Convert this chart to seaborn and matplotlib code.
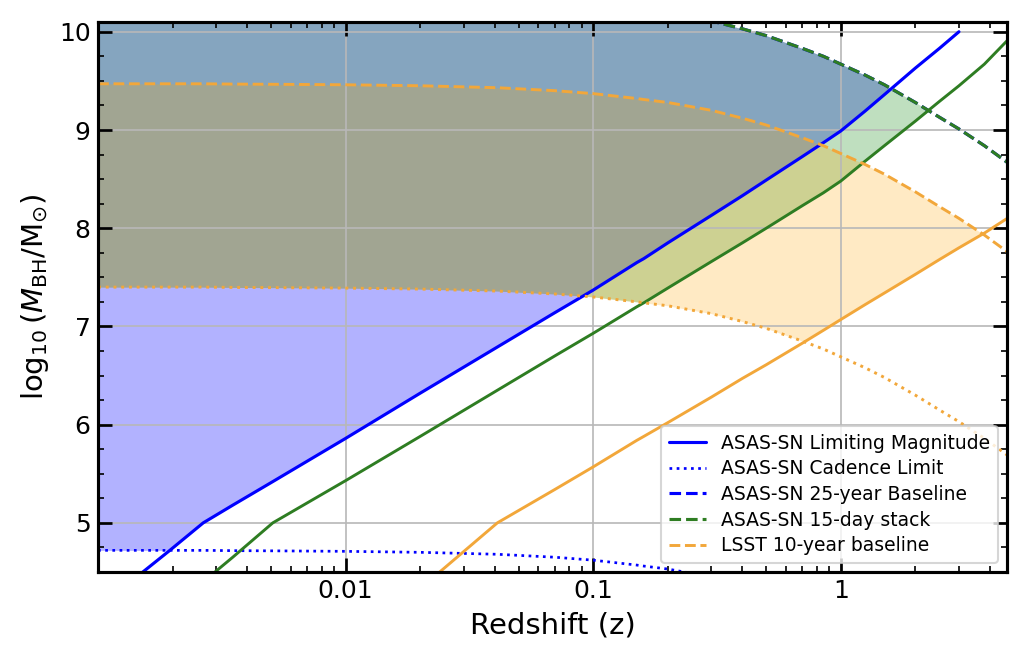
"""
Black-hole mass reach vs redshift for ASAS-SN and LSST.
Shaded areas: masses that lie between the survey depth / cadence limit
(lower bound) and the baseline limit (upper bound).
"""

import numpy as np
import pandas as pd
import matplotlib
matplotlib.use("Agg")  # no display
import matplotlib.pyplot as plt
import seaborn as sns
from matplotlib.ticker import AutoMinorLocator, NullFormatter

# --- values (log10 M_BH on a shared redshift grid) ---
redshift = [0.001, 0.00145, 0.00195, 0.00266, 0.0035, 0.00508, 0.01, 0.02,
            0.041, 0.07, 0.1, 0.15, 0.16, 0.2, 0.3, 0.4, 0.5, 0.7, 0.85, 1.0,
            1.25, 1.5, 2.0, 2.5, 3.0, 3.8, 4.7]

asassn_limit = [4.14, 4.46, 4.72, 5.00, 5.18, 5.42, 5.86, 6.32, 6.79, 7.14,
                7.37, 7.65, 7.69, 7.85, 8.13, 8.33, 8.49, 8.73, 8.87, 8.99,
                9.19, 9.36, 9.63, 9.83, 10.00, np.nan, np.nan]
asassn_cadence = [4.72, 4.72, 4.72, 4.72, 4.717, 4.715, 4.71, 4.70, 4.68, 4.65,
                  4.62, 4.57, 4.56, 4.53, 4.45, 4.37, 4.30, 4.17, 4.09, 4.01,
                  3.90, 3.80, 3.62, 3.47, 3.35, 3.18, 3.01]
# the 25-year baseline runs under the 15-day stack curve
asassn_baseline = [10.38, 10.38, 10.38, 10.38, 10.377, 10.375, 10.37, 10.36,
                   10.34, 10.31, 10.28, 10.23, 10.22, 10.19, 10.11, 10.03,
                   9.96, 9.83, 9.75, 9.67, 9.56, 9.46, 9.28, 9.13, 9.01, 8.84,
                   8.67]

stack_limit = [3.48, 3.83, 4.11, 4.40, 4.65, 5.00, 5.43, 5.88, 6.35, 6.70,
               6.93, 7.20, 7.24, 7.39, 7.66, 7.85, 8.00, 8.23, 8.36, 8.48,
               8.68, 8.84, 9.09, 9.29, 9.45, 9.67, 9.91]
stack_cadence = [7.40, 7.40, 7.40, 7.40, 7.397, 7.395, 7.39, 7.38, 7.36, 7.33,
                 7.30, 7.25, 7.24, 7.21, 7.13, 7.05, 6.98, 6.85, 6.77, 6.69,
                 6.58, 6.48, 6.30, 6.15, 6.03, 5.86, 5.69]
stack_baseline = [10.38, 10.38, 10.38, 10.38, 10.377, 10.375, 10.37, 10.36,
                  10.34, 10.31, 10.28, 10.23, 10.22, 10.19, 10.11, 10.03,
                  9.96, 9.83, 9.75, 9.67, 9.56, 9.46, 9.28, 9.13, 9.01, 8.84,
                  8.67]

lsst_limit = [1.55, 1.89, 2.17, 2.46, 2.71, 3.06, 3.69, 4.33, 5.00, 5.34,
              5.57, 5.84, 5.88, 6.02, 6.28, 6.47, 6.61, 6.83, 6.96, 7.07,
              7.22, 7.34, 7.53, 7.68, 7.80, 7.95, 8.10]
lsst_cadence = [7.40, 7.40, 7.40, 7.40, 7.397, 7.395, 7.39, 7.38, 7.36, 7.33,
                7.30, 7.25, 7.24, 7.21, 7.13, 7.05, 6.98, 6.85, 6.77, 6.69,
                6.58, 6.48, 6.30, 6.15, 6.03, 5.86, 5.69]
lsst_baseline = [9.47, 9.47, 9.47, 9.47, 9.467, 9.465, 9.46, 9.45, 9.43, 9.40,
                 9.37, 9.32, 9.31, 9.28, 9.20, 9.12, 9.05, 8.92, 8.84, 8.76,
                 8.65, 8.55, 8.37, 8.22, 8.10, 7.93, 7.76]

BLUE = "blue"
GREEN = "#2e7d22"
ORANGE = "#f2a73a"

df = pd.DataFrame({
    "z": redshift,
    "asassn_limit": asassn_limit, "asassn_cadence": asassn_cadence,
    "asassn_baseline": asassn_baseline,
    "stack_limit": stack_limit, "stack_cadence": stack_cadence,
    "stack_baseline": stack_baseline,
    "lsst_limit": lsst_limit, "lsst_cadence": lsst_cadence,
    "lsst_baseline": lsst_baseline,
})

sns.set_style("ticks")
plt.rcParams["font.family"] = ["DejaVu Sans"]
plt.rcParams["text.color"] = "black"
plt.rcParams["axes.labelcolor"] = "black"

fig = plt.figure(figsize=(6.88, 4.307), dpi=150)
ax = fig.add_axes([0.095, 0.1146, 0.881, 0.8514])
ax.set_xscale("log")

# --- shaded detection windows (only where lower bound < upper bound) ---
for pre, col, alpha in [("asassn", BLUE, 0.3), ("stack", "green", 0.25),
                        ("lsst", "orange", 0.23)]:
    lower = np.maximum(df[f"{pre}_limit"], df[f"{pre}_cadence"]).to_numpy()
    upper = df[f"{pre}_baseline"].to_numpy()
    ok = np.nan_to_num(lower, nan=99) <= upper
    ax.fill_between(df["z"], lower, upper, where=ok, interpolate=True,
                    color=col, alpha=alpha, lw=0)


def line(col, color, ls, lw, label=None):
    d = df.dropna(subset=[col])
    sns.lineplot(data=d, x="z", y=col, color=color, linestyle=ls, lw=lw,
                 estimator=None, sort=False, label=label, ax=ax)


line("asassn_limit", BLUE, "-", 1.5, "ASAS-SN Limiting Magnitude")
line("asassn_cadence", BLUE, ":", 1.3, "ASAS-SN Cadence Limit")
line("asassn_baseline", BLUE, "--", 1.5, "ASAS-SN 25-year Baseline")
line("stack_limit", GREEN, "-", 1.4)
line("stack_baseline", GREEN, "--", 1.5, "ASAS-SN 15-day stack")
line("lsst_limit", ORANGE, "-", 1.4)
line("lsst_cadence", ORANGE, ":", 1.4)
line("lsst_baseline", ORANGE, "--", 1.4, "LSST 10-year baseline")

ax.set_xlim(0.001, 4.7)
ax.set_ylim(4.5, 10.1)
ax.set_xticks([0.01, 0.1, 1], ["0.01", "0.1", "1"])
ax.xaxis.set_minor_formatter(NullFormatter())
ax.set_yticks([5, 6, 7, 8, 9, 10])
ax.yaxis.set_minor_locator(AutoMinorLocator(4))

ax.set_axisbelow("line")
ax.grid(True, which="major", color="#b8b8b8", lw=0.8)

ax.tick_params(which="both", direction="in", top=True, right=True,
               colors="black", labelsize=12)
ax.tick_params(which="major", length=6.5, width=1.3)
ax.tick_params(which="minor", length=3, width=0.8)
for s in ax.spines.values():
    s.set_color("black")
    s.set_linewidth(1.5)

ax.set_xlabel("Redshift (z)", fontsize=14)
ax.set_ylabel(r"$\log_{10}(M_{\mathrm{BH}}/\mathrm{M}_{\odot})$", fontsize=14)

ax.legend(loc="lower right", fontsize=9, labelspacing=0.35)

fig.savefig("out.png", dpi=150)
plt.close(fig)
